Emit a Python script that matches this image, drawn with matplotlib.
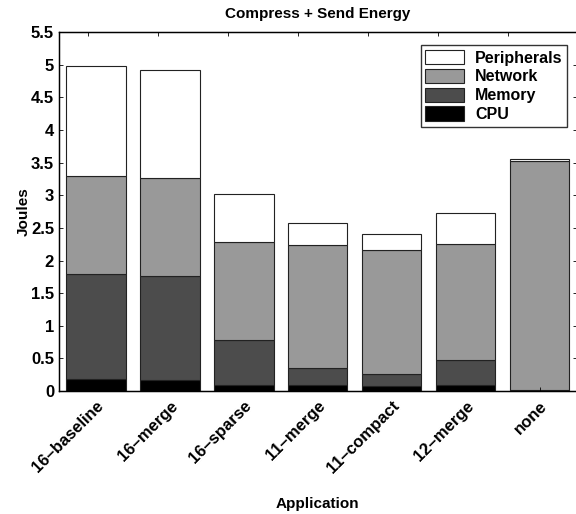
import numpy as np
import matplotlib
matplotlib.use('Agg')
import matplotlib.pyplot as plt

plt.rcParams['font.family'] = ['Liberation Sans', 'DejaVu Sans']
plt.rcParams['font.weight'] = 'bold'

apps = ['16–baseline', '16–merge', '16–sparse', '11–merge', '11–compact', '12–merge', 'none']
cpu = [0.18, 0.17, 0.09, 0.09, 0.08, 0.09, 0.01]
memory = [1.61, 1.59, 0.69, 0.26, 0.18, 0.39, 0.01]
network = [1.51, 1.51, 1.50, 1.89, 1.90, 1.77, 3.51]
peripherals = [1.68, 1.65, 0.74, 0.34, 0.25, 0.47, 0.02]

colors = ['black', '#4c4c4c', '#999999', 'white']
names = ['CPU', 'Memory', 'Network', 'Peripherals']

fig = plt.figure(figsize=(5.76, 5.14), dpi=100)
ax = fig.add_axes([0.1024, 0.239, 0.899, 0.699])

x = np.arange(1, len(apps) + 1)
bottom = np.zeros(len(apps))
handles = []
for vals, c, n in zip([cpu, memory, network, peripherals], colors, names):
    h = ax.bar(x, vals, 0.8, bottom=bottom, color=c, edgecolor='#222222', linewidth=0.8, label=n)
    handles.append(h)
    bottom += np.array(vals)

ax.set_xlim(0.5, 7.5)
ax.set_ylim(0, 5.5)
ax.set_yticks(np.arange(0, 5.51, 0.5))
ax.set_yticklabels(['0', '0.5', '1', '1.5', '2', '2.5', '3', '3.5', '4', '4.5', '5', '5.5'])
ax.set_xticks(x)
ax.set_xticklabels(apps, rotation=45, ha='right', rotation_mode='anchor')
ax.tick_params(axis='both', direction='in', length=3, labelsize=12, right=True, width=0.6)
ax.tick_params(axis='x', bottom=False, pad=5)

# top ticks from the original MATLAB axes
top = ax.twiny()
top.set_xlim(0.584, 7.98)
top.set_xticks(np.arange(1, 8))
top.tick_params(axis='x', direction='in', length=3, labeltop=False, width=0.6)

for s in ax.spines.values():
    s.set_linewidth(1.0)

ax.set_title('Compress + Send Energy', fontsize=11, fontweight='bold', pad=10)
ax.set_ylabel('Joules', fontsize=11, fontweight='bold', labelpad=0)
ax.set_xlabel('Application', fontsize=11, fontweight='bold', labelpad=15)

leg = ax.legend(handles[::-1], names[::-1], loc='upper right', fontsize=11.5,
                frameon=True, fancybox=False, edgecolor='black',
                handlelength=2.4, handleheight=1.0, borderpad=0.3, labelspacing=0.2,
                handletextpad=0.7, bbox_to_anchor=(0.997, 0.985))
leg.get_frame().set_linewidth(1.0)

fig.savefig('out.png', dpi=100)
